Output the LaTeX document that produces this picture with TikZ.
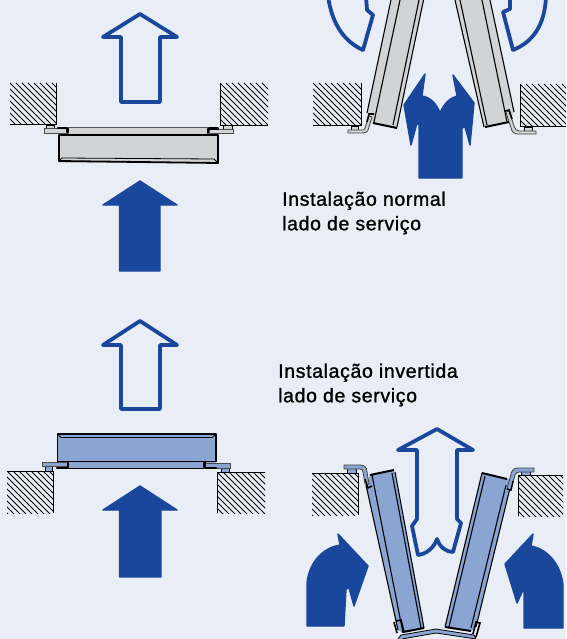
\documentclass[tikz,border=0pt]{standalone}
\usepackage{fontspec}
\setmainfont{Liberation Sans}
\newfontfamily\captionfont[FakeBold=1.2,LetterSpace=3.3]{Liberation Sans}
\definecolor{bgblue}{HTML}{E8EDF6}
\definecolor{arrowblue}{HTML}{19479C}
\definecolor{panelgray}{HTML}{D2D3D5}
\definecolor{panelblue}{HTML}{8AA5D2}
\tikzset{
  outarrow/.style={draw=arrowblue,line width=3.8pt,line join=round,fill=bgblue},
  fullarrow/.style={draw=arrowblue,line width=1.4pt,line join=round,fill=arrowblue},
  edgeline/.style={draw=black,line width=1.1pt,line join=round},
  thinline/.style={draw=black,line width=.8pt},
  heavyline/.style={draw=black,line width=2pt,line join=round},
  hatchline/.style={draw=black,line width=1pt},
  captiontext/.style={anchor=west,align=left,font=\captionfont\fontsize{19.5}{24.5}\selectfont,inner sep=0pt}
}
% wall: x0, y0, x1, y1
\newcommand{\wall}[4]{
  \begin{scope}
    \clip (#1,#2) rectangle (#3,#4);
    \foreach \s in {-48,-42,...,54} {
      \draw[hatchline] (#1+\s,#2) -- ++(60,60);
    }
  \end{scope}
}
\begin{document}
\begin{tikzpicture}[x=1pt,y=-1pt]
  \useasboundingbox (0,0) rectangle (566,639);
  \fill[bgblue] (0,0) rectangle (566,639);

  % top left
  \wall{10}{83}{56}{124}
  \wall{220}{83}{268}{125}
  \draw[thinline] (10,124) -- (56,124) -- (56,83);
  \draw[thinline] (220,125) -- (268,125);
  \draw[thinline] (220,125) -- (220,83);
  \draw[outarrow] (140,14) -- (177,37) -- (160,37) -- (160,102) -- (121,102) -- (121,37) -- (103,37) -- cycle;
  \draw[fullarrow] (140,181) -- (177,205) -- (160,205) -- (160,271) -- (119.5,271) -- (119.5,205) -- (103,205) -- cycle;
  \fill[panelgray] (58,135) rectangle (218,163);
  \draw[thinline,fill=panelgray,draw=black!65] (60,127) rectangle (216,135);
  \draw[heavyline,fill=panelgray,line width=1.8pt] (59,135) -- (59,161) -- (218,163) -- (218,135) -- cycle;
  \draw[thinline] (62,158) -- (214,159);
  \draw[thinline] (59,161) -- (62,158);
  \draw[thinline] (218,163) -- (214,159);
  \draw[thinline,line width=1pt] (59,135) -- (218,135);
  \draw[draw=black,fill=panelgray,line width=.6pt] (46,125) rectangle (54,129);
  \draw[draw=black,fill=panelgray,line width=.6pt] (223,125) rectangle (232,129);
  \draw[draw=black!70,fill=panelgray,line width=.8pt] (44,128) rectangle (68,133);
  \draw[draw=black!70,fill=panelgray,line width=.8pt] (209,129) rectangle (233,133.5);
  \draw[line width=2.4pt,line cap=round] (58,128) -- (66,128) (67.5,128.5) -- (67.5,132);
  \draw[line width=2.4pt,line cap=round] (218,128.5) -- (209,128.5) (208,129) -- (208,133);

  % top right
  \wall{313}{83}{361}{125}
  \wall{520}{84}{566}{126}
  \draw[thinline] (313,125) -- (361,125) -- (361,83);
  \draw[thinline] (520,126) -- (566,126);
  \draw[thinline] (520,126) -- (520,84);
  \fill[panelgray] (392,0) -- (367,113) -- (372,123) -- (397,128) -- (423.5,0) -- cycle;
  \draw[edgeline] (391,0) -- (367,113);
  \draw[edgeline] (400,0) -- (374,122);
  \draw[edgeline] (423.5,0) -- (397,127);
  \draw[edgeline] (419,0) -- (393,125);
  \draw[heavyline] (373,123) -- (397,128);
  \fill[panelgray] (455,0) -- (484,127) -- (508,122) -- (514,112) -- (490,0) -- cycle;
  \draw[edgeline] (490,0) -- (514,112);
  \draw[edgeline] (482,0) -- (507,122);
  \draw[edgeline] (455,0) -- (484,127);
  \draw[edgeline] (460,0) -- (487,125);
  \draw[heavyline] (485,127) -- (509,122);
  \draw[draw=black,fill=panelgray,line width=.6pt] (351,126) rectangle (358,130);
  \draw[draw=black!75,fill=panelgray,line width=.8pt] (348,130) -- (363,130) .. controls (365,130) and (365,128) .. (366,125) -- (369,116) -- (372,117) -- (369,127) .. controls (368,132) and (366,133) .. (363,133) -- (348,133) -- cycle;
  \draw[draw=black,fill=panelgray,line width=.6pt] (524,127) rectangle (532,131);
  \draw[draw=black!75,fill=panelgray,line width=.8pt] (536,131) -- (519,131) .. controls (516,131) and (515,129) .. (514,126) -- (509,111) -- (506,112) -- (511,128) .. controls (512,132) and (514,134) .. (518,134) -- (536,134) -- cycle;
  \draw[line width=1.6pt] (367,122) -- (369,114) -- (374,114);
  \draw[line width=1.6pt] (505,111) -- (509,110) -- (512,119);
  \draw[outarrow] (328,-4) .. controls (332,25) and (345,42) .. (363,50) -- (373,15) -- (367,10) -- (366,-4);
  \draw[outarrow] (546,-4) .. controls (545,25) and (533,42) .. (513,50) -- (503,12) -- (510,9) -- (510,-4);
  \draw[fullarrow] (419,178) -- (419,125) -- (417,123) -- (411,145) -- (404,105) -- (425,74) -- (422,96)
    .. controls (430,97) and (437,104) .. (440,113) .. controls (444,103) and (450,98) .. (457,96)
    -- (453,75) -- (474,103) -- (470,145) -- (465,127) -- (462,128) -- (462,178) -- cycle;

  % bottom left
  \wall{7}{471}{53}{513}
  \wall{217}{472}{265}{513}
  \draw[thinline] (7,471) -- (53,471) -- (53,513);
  \draw[thinline] (217,472) -- (265,472);
  \draw[thinline] (217,472) -- (217,513);
  \draw[outarrow] (140,321) -- (177,345) -- (160,345) -- (160,409) -- (121,409) -- (121,345) -- (103,345) -- cycle;
  \draw[fullarrow] (140,486) -- (177,510) -- (161,510) -- (161,577) -- (119.5,577) -- (119.5,510) -- (103,510) -- cycle;
  \fill[panelblue] (58,434) rectangle (216,468);
  \draw[thinline,fill=panelblue] (60,461.5) rectangle (205,468);
  \draw[heavyline,fill=panelblue,line width=1.8pt] (57.5,461.5) -- (57.5,434) -- (216,434) -- (216,461.5);
  \draw[thinline,line width=1pt] (57.5,461.5) -- (216,461.5);
  \draw[thinline] (61,437.5) -- (212,437.5);
  \draw[thinline] (57.5,434) -- (61,437.5);
  \draw[thinline] (216,434) -- (212,437.5);
  \draw[draw=black,fill=panelblue,line width=.6pt] (45,466) rectangle (52,471);
  \draw[draw=black,fill=panelblue,line width=.6pt] (221,467) rectangle (229,472);
  \draw[draw=black!70,fill=panelblue,line width=.8pt] (42.5,462) rectangle (68,466.5);
  \draw[draw=black!70,fill=panelblue,line width=.8pt] (204,463.5) rectangle (230,468);
  \draw[line width=2.4pt,line cap=round] (57,468) -- (67,468) (68,467.5) -- (68,463);
  \draw[line width=2.4pt,line cap=round] (216,468) -- (206,468) (204.5,467) -- (204.5,463);

  % bottom right
  \wall{312}{473}{358}{515}
  \wall{518}{475}{563}{516}
  \draw[thinline] (312,473) -- (358,473) -- (358,515);
  \draw[thinline] (518,475) -- (563,475);
  \draw[thinline] (518,475) -- (518,516);
  \draw[outarrow] (437,429) -- (473,450) -- (457,450) -- (457,519) -- (461,523) -- (453,552)
    .. controls (447,552) and (440,548) .. (437,539) .. controls (434,548) and (426,554) .. (418,555)
    -- (412,526) -- (417,519) -- (417,450) -- (398,450) -- cycle;
  \fill[panelblue] (366,485) -- (370,475) -- (394,470) -- (424,628) -- (403,633) -- (398,630) -- cycle;
  \draw[edgeline] (366,485) -- (398,630);
  \draw[edgeline] (372,475) -- (403,633);
  \draw[edgeline] (395,472) -- (424,628);
  \draw[edgeline] (392,473) -- (421,628);
  \draw[heavyline] (370,475) -- (394,470);
  \draw[heavyline] (403,632) -- (424,628);
  \fill[panelblue] (482,473) -- (512,480) -- (476,627) -- (471,631) -- (445,627) -- cycle;
  \draw[edgeline] (482,473) -- (445,627);
  \draw[edgeline] (485,476) -- (449,627);
  \draw[edgeline] (512,480) -- (476,627);
  \draw[edgeline] (506,485) -- (471,628);
  \draw[heavyline] (482,473) -- (507,479);
  \draw[heavyline] (445,627) -- (471,631);
  \draw[draw=black,fill=panelblue,line width=.6pt] (347,468) rectangle (356,473);
  \draw[draw=black!75,fill=panelblue,line width=.8pt] (344,465) -- (360,465) .. controls (364,465) and (367,467) .. (367,472) -- (369,484) -- (365,484) -- (363,472) .. controls (363,470) and (362,469) .. (360,469) -- (344,469) -- cycle;
  \draw[draw=black,fill=panelblue,line width=.6pt] (521,471) rectangle (530,475);
  \draw[draw=black!75,fill=panelblue,line width=.8pt] (534,468) -- (518,468) .. controls (514,468) and (512,470) .. (511,474) -- (507,489) -- (511,490) -- (515,475) .. controls (516,473) and (517,472) .. (519,472) -- (534,472) -- cycle;
  \draw[line width=1.4pt] (365,479) -- (368,488) -- (372,486);
  \draw[line width=1.4pt] (507,489) -- (511,490) -- (513,481);
  % plate between the lower ends
  \draw[draw=black,fill=panelblue,line width=.8pt] (398,639) -- (401,635) -- (436,629) -- (474,635) -- (476,639) -- (436,633) -- (402,639);
  \draw[line width=1.6pt] (394,622) -- (397,633) (396,621) -- (401,620) -- (404,632);
  \draw[line width=1.6pt] (473,634) -- (476,622) -- (480,623) -- (476,637);
  \draw[fullarrow] (307,626) -- (307,583) .. controls (309,563) and (322,548) .. (340,545) -- (338,534) -- (368,566) -- (354,606) -- (349,588) -- (346,589) -- (344,626) -- cycle;
  \draw[fullarrow] (524,628) -- (524,588) -- (517,603) -- (505,564) -- (533,534) -- (531,546) .. controls (548,549) and (561,565) .. (563,585) -- (563,628) -- cycle;

  \node[captiontext] (normaltext) at (282,213) {Instalação normal\\lado de serviço};
  \node[captiontext] (invertedtext) at (278,385) {Instalação invertida\\lado de serviço};
\end{tikzpicture}
\end{document}
